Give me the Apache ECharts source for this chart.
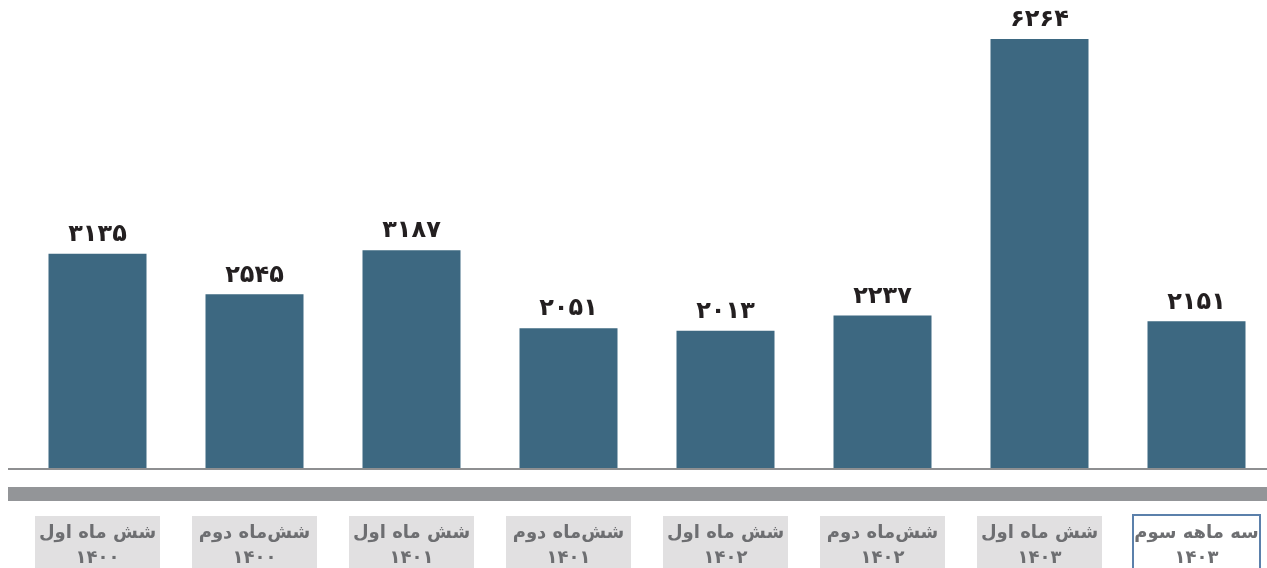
<!DOCTYPE html>
<html lang="fa">
<head>
<meta charset="utf-8">
<title>نمودار</title>
<script src="https://cdn.jsdelivr.net/npm/echarts@6/dist/echarts.min.js"></script>
<style>
  html, body { margin: 0; padding: 0; background: #ffffff; }
  #chart { width: 1267px; height: 568px; }
</style>
</head>
<body>
<div id="chart"></div>
<script>
// Period names and years for each bar
const periods = ['شش ماه اول', 'شش‌ماه دوم', 'شش ماه اول', 'شش‌ماه دوم', 'شش ماه اول', 'شش‌ماه دوم', 'شش ماه اول', 'سه ماهه سوم'];
const years = ['۱۴۰۰', '۱۴۰۰', '۱۴۰۱', '۱۴۰۱', '۱۴۰۲', '۱۴۰۲', '۱۴۰۳', '۱۴۰۳'];
const values = [3135, 2545, 3187, 2051, 2013, 2237, 6264, 2151];

const FONT = '"DejaVu Sans", "Noto Sans", sans-serif';
const persianDigits = '۰۱۲۳۴۵۶۷۸۹';
const toPersian = n => String(n).replace(/\d/g, d => persianDigits[d]);

const boxBase = {
  width: 125,
  padding: [5, 0, 14, 0],
  lineHeight: 25,
  fontSize: 18,
  fontWeight: 'bold',
  color: '#6d6e71',
  fontFamily: FONT,
  align: 'center'
};

const categoryData = periods.map((p, i) => {
  const last = i === periods.length - 1;
  return {
    value: p + '\n' + years[i],
    textStyle: last
      ? Object.assign({}, boxBase, { backgroundColor: '#ffffff', borderColor: '#5b80ab', borderWidth: 2 })
      : Object.assign({}, boxBase, { backgroundColor: '#e1e0e1' })
  };
});

const chart = echarts.init(document.getElementById('chart'), null, { renderer: 'canvas' });

chart.setOption({
  backgroundColor: '#ffffff',
  animation: false,
  grid: { left: 19, right: -8, top: 39, bottom: 99, containLabel: false, outerBoundsMode: 'none' },
  xAxis: {
    type: 'category',
    data: categoryData,
    axisLine: { show: false },
    axisTick: { show: false },
    axisLabel: { margin: 47, interval: 0 }
  },
  yAxis: {
    type: 'value',
    min: 0,
    max: 'dataMax',
    show: false,
    splitLine: { show: false }
  },
  series: [{
    type: 'bar',
    data: values,
    barWidth: 98,
    itemStyle: { color: '#3d6881' },
    label: {
      show: true,
      position: 'top',
      distance: 7,
      formatter: p => toPersian(p.value),
      fontSize: 24,
      fontWeight: 'bold',
      color: '#231f20',
      fontFamily: FONT
    }
  }],
  graphic: [
    // baseline under the bars
    { type: 'rect', shape: { x: 8, y: 468, width: 1259, height: 2 }, style: { fill: '#8e8f91' }, z: 10 },
    // grey band separating the bars from the period boxes
    { type: 'rect', shape: { x: 8, y: 487, width: 1259, height: 14 }, style: { fill: '#939598' }, z: 10 }
  ]
});
</script>
</body>
</html>
